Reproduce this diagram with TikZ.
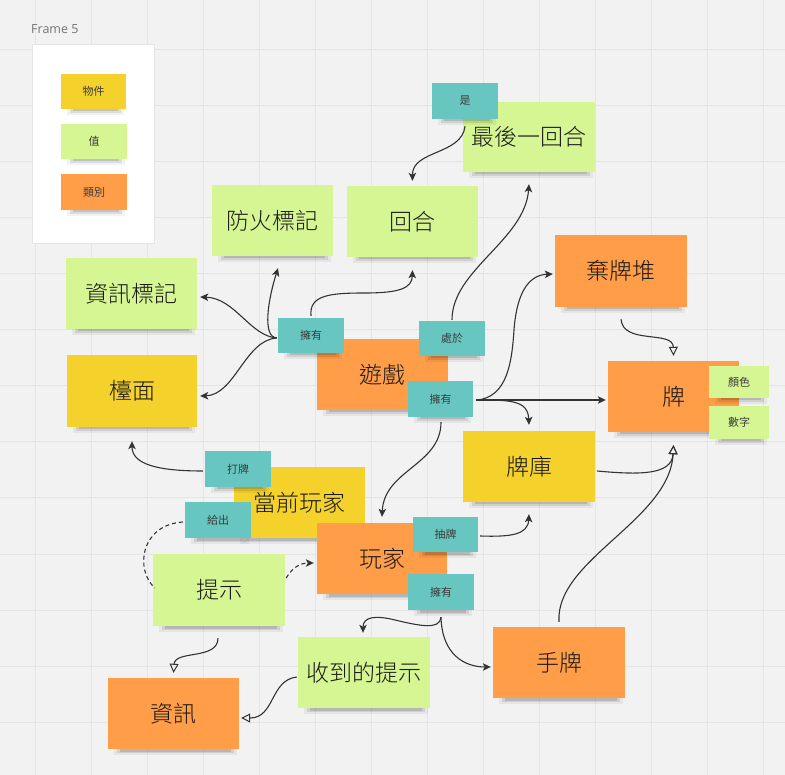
\documentclass[tikz,border=0pt]{standalone}
\usepackage{fontspec}
\setmainfont{Noto Sans CJK TC}[UprightFont={* Light}]
\newfontfamily\smf{Noto Sans CJK TC}
\newfontfamily\latf{Open Sans}
\usetikzlibrary{arrows.meta,calc}
\definecolor{bgc}{HTML}{F2F2F2}
\definecolor{gridc}{HTML}{E5E5E5}
\definecolor{yel}{HTML}{F5D12C}
\definecolor{grn}{HTML}{D5F692}
\definecolor{org}{HTML}{FF9D48}
\definecolor{teal}{HTML}{67C7C0}
\definecolor{textc}{HTML}{1A1A1A}
\definecolor{linec}{HTML}{333333}
\tikzset{
  stickyn/.style={rectangle,inner sep=0pt,text=textc},
  bigt/.style={font=\fontsize{23}{27}\selectfont},
  smallt/.style={font=\smf\fontsize{11}{13}\selectfont,text=textc!85},
  conn/.style={draw=linec,line width=1.1pt},
  fa/.style={-{Stealth[length=8pt,width=7.5pt,inset=2pt]}},
  oa/.style={-{Triangle[open,length=9pt,width=9pt,line width=1pt]}},
  dsh/.style={dash pattern=on 4pt off 3pt}
}
\newcommand\mystk[8]{%
  \fill[black,opacity=.05] ({#3+6},{#6-1}) rectangle ({#5-2},{#6+6});
  \fill[black,opacity=.09] ({#3+9},{#6-1}) rectangle ({#5-5},{#6+4});
  \fill[black,opacity=.12] ({#3+12},{#6-1}) rectangle ({#5-8},{#6+2.5});
  \node[stickyn,fill=#2,#7,minimum width={#5-#3},minimum height={#6-#4}] (#1) at ({(#3+#5)/2},{(#4+#6)/2}) {#8};
}
\begin{document}
\begin{tikzpicture}[x=1pt,y=-1pt]
\useasboundingbox (0,0) rectangle (785,775);
\fill[bgc] (0,0) rectangle (785,775);
\foreach \k in {0,...,13}{
  \draw[gridc,line width=1pt] ({35+56*\k},0) -- ({35+56*\k},775);
  \draw[gridc,line width=1pt] (0,{50+56*\k}) -- (785,{50+56*\k});
}
% frame
\node[anchor=west,text=black!55,font=\latf\fontsize{12.5}{14}\selectfont,inner sep=0pt] (frlabel) at (31,29) {Frame 5};
\draw[black!10,fill=white,line width=0.8pt] (32,44) rectangle (154,243);
\mystk{leg1}{yel}{61}{74}{126}{109}{smallt}{物件}
\mystk{leg2}{grn}{61}{124}{127}{159}{smallt}{值}
\mystk{leg3}{org}{61}{174}{127}{210}{smallt}{類別}
% stickies
\mystk{fire}{grn}{212}{185}{333}{256}{bigt}{防火標記}
\mystk{round}{grn}{347}{186}{478}{257}{bigt}{回合}
\mystk{last}{grn}{463}{102}{595}{172}{bigt}{最後一回合}
\mystk{is}{teal}{432}{83}{498}{119}{smallt}{是}
\mystk{infotag}{grn}{66}{258}{197}{329}{bigt}{資訊標記}
\mystk{table}{yel}{67}{355}{197}{427}{bigt}{檯面}
\mystk{game}{org}{317}{339}{448}{410}{bigt}{遊戲}
\mystk{ownG1}{teal}{278}{318}{344}{353}{smallt}{擁有}
\mystk{inn}{teal}{419}{321}{485}{356}{smallt}{處於}
\mystk{ownG2}{teal}{408}{381}{473}{417}{smallt}{擁有}
\mystk{discard}{org}{555}{235}{687}{307}{bigt}{棄牌堆}
\mystk{card}{org}{608}{361}{739}{432}{bigt}{牌}
\mystk{colr}{grn}{709}{366}{769}{398}{smallt}{顏色}
\mystk{numb}{grn}{709}{406}{769}{439}{smallt}{數字}
\mystk{deck}{yel}{463}{431}{595}{502}{bigt}{牌庫}
\mystk{cur}{yel}{234}{467}{365}{538}{bigt}{當前玩家}
\mystk{play}{teal}{205}{451}{271}{487}{smallt}{打牌}
\mystk{give}{teal}{185}{502}{251}{538}{smallt}{給出}
\mystk{hint}{grn}{153}{554}{285}{626}{bigt}{提示}
\mystk{player}{org}{317}{523}{447}{594}{bigt}{玩家}
\mystk{drw}{teal}{413}{517}{478}{552}{smallt}{抽牌}
\mystk{ownP}{teal}{408}{574}{474}{610}{smallt}{擁有}
\mystk{hand}{org}{493}{627}{625}{698}{bigt}{手牌}
\mystk{rhint}{grn}{298}{637}{430}{708}{bigt}{收到的提示}
\mystk{info}{org}{108}{678}{239}{749}{bigt}{資訊}
% connectors
\draw[conn,fa] ($(ownG1.west)+(-1,2.5)$) .. controls (250,336) and (235,298) .. ($(infotag.east)+(3,3.5)$);
\draw[conn,fa] ($(ownG1.west)+(-1,2.5)$) .. controls (245,340) and (235,395) .. ($(table.east)+(3,5)$);
\draw[conn,fa] ($(ownG1.west)+(-1,2.5)$) .. controls (262,337) and (268,300) .. ($(fire.south)+(5.5,12)$);
\draw[conn,fa] ($(ownG1.north)+(0,-2)$) .. controls (309,295) and (330,293) .. (365,293) .. controls (400,293) and (412,288) .. ($(round.south)+(0,13)$);
\draw[conn,fa] ($(inn.north)+(0,-1)$) .. controls (452,270) and (525,240) .. ($(last.south)+(0,12)$);
\draw[conn,fa] ($(ownG2.east)+(3,1)$) -- ($(card.west)+(-2,3.5)$);
\draw[conn,fa] ($(ownG2.east)+(3,1)$) .. controls (508,398) and (512,360) .. (514,330) .. controls (517,290) and (530,275) .. ($(discard.west)+(-2,3)$);
\draw[conn,fa] ($(ownG2.east)+(3,1)$) .. controls (510,400) and (528,400) .. ($(deck.north)+(0,-6)$);
\draw[conn,fa] ($(ownG2.south)+(0.5,5)$) .. controls (441,465) and (384,470) .. ($(player.north)+(0,-6)$);
\draw[conn,fa] ($(play.west)+(-2,2)$) .. controls (160,471) and (132,465) .. ($(table.south)+(0,14)$);
\draw[conn,dsh] ($(give.west)+(-2,2)$) .. controls (140,525) and (135,570) .. ($(hint.west)+(2,-2)$);
\draw[conn,dsh,fa] ($(hint.east)+(1,-12)$) .. controls (292,568) and (300,563) .. ($(player.west)+(-3,4.5)$);
\draw[conn,fa] ($(drw.east)+(2,1.5)$) .. controls (510,537) and (528,535) .. ($(deck.south)+(0,12)$);
\draw[conn,fa] ($(ownP.south)+(0,7)$) .. controls (440,630) and (420,626) .. (395,620) .. controls (375,615) and (363,617) .. ($(rhint.north)+(-1,-4)$);
\draw[conn,fa] ($(ownP.south)+(0,7)$) .. controls (442,655) and (465,667) .. ($(hand.west)+(-2,4.5)$);
\draw[conn,oa] ($(discard.south)+(0,12)$) .. controls (623,345) and (673,330) .. ($(card.north)+(0,-5)$);
\draw[conn,oa] ($(deck.east)+(2,4.5)$) .. controls (640,475) and (672,475) .. ($(card.south)+(0,13)$);
\draw[conn,oa] ($(hand.north)+(0,-5)$) .. controls (555,560) and (670,520) .. ($(card.south)+(0,13)$);
\draw[conn,fa] ($(is.south)+(0,7)$) .. controls (462,155) and (412,150) .. ($(round.north)+(0,-5)$);
\draw[conn,oa] ($(hint.south)+(-1,12)$) .. controls (218,660) and (175,650) .. ($(info.north)+(0,-5)$);
\draw[conn,oa] ($(rhint.west)+(-1,4.5)$) .. controls (270,680) and (275,718) .. ($(info.east)+(2,4.5)$);
\end{tikzpicture}
\end{document}
